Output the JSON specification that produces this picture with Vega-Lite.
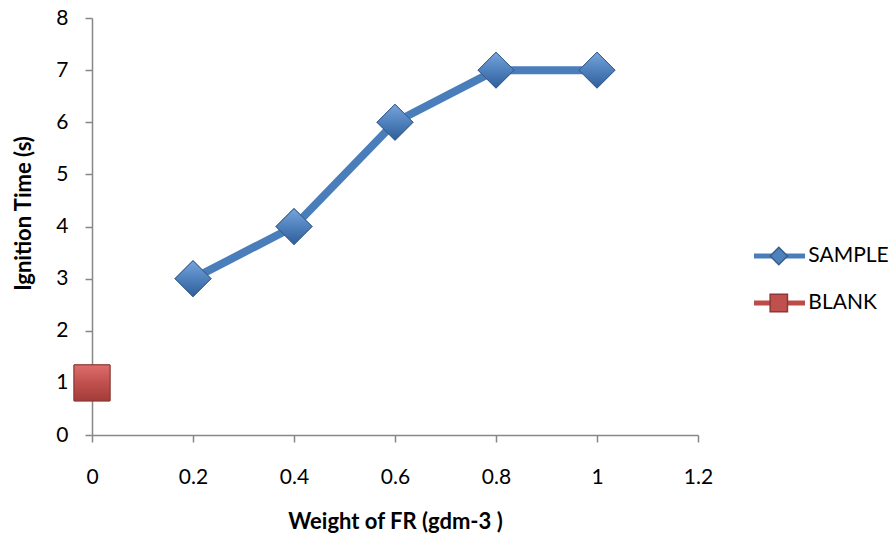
{
  "$schema": "https://vega.github.io/schema/vega-lite/v6.json",
  "width": 606,
  "height": 417,
  "autosize": {"type": "none"},
  "padding": {"left": 92, "top": 18, "right": 193, "bottom": 105},
  "background": "white",
  "config": {
    "view": {"stroke": null},
    "font": "Lato",
    "axis": {"grid": false, "domainColor": "#878787", "tickColor": "#878787", "domainWidth": 1.5, "tickWidth": 1.5, "tickSize": 7, "labelFont": "Lato", "labelFontSize": 21, "labelColor": "#000000", "labelFlush": false, "titleFont": "Lato", "titleFontSize": 22, "titleFontWeight": "bold", "titleColor": "#000000"},
    "legend": {"labelFont": "Lato", "labelFontSize": 21, "labelColor": "#000000"}
  },
  "data": {
    "values": [
      {"series": "SAMPLE", "x": 0.2, "y": 3},
      {"series": "SAMPLE", "x": 0.4, "y": 4},
      {"series": "SAMPLE", "x": 0.6, "y": 6},
      {"series": "SAMPLE", "x": 0.8, "y": 7},
      {"series": "SAMPLE", "x": 1.0, "y": 7},
      {"series": "BLANK", "x": 0, "y": 1}
    ]
  },
  "encoding": {
    "x": {"field": "x", "type": "quantitative", "scale": {"domain": [0, 1.2], "nice": false, "zero": false},
      "axis": {"values": [0, 0.2, 0.4, 0.6, 0.8, 1, 1.2], "format": "~g", "labelPadding": 24, "title": "Weight of FR (gdm-3 )", "titlePadding": 24}},
    "y": {"field": "y", "type": "quantitative", "scale": {"domain": [0, 8], "nice": false},
      "axis": {"values": [0, 1, 2, 3, 4, 5, 6, 7, 8], "labelPadding": 17, "title": "Ignition Time (s)", "titlePadding": 20, "titleY": 195}}
  },
  "layer": [
    {
      "mark": {"type": "line", "strokeWidth": 8, "strokeJoin": "round", "strokeCap": "round"},
      "encoding": {
        "color": {"field": "series", "type": "nominal", "sort": ["SAMPLE", "BLANK"],
          "scale": {"range": ["#4A7EBB", "#BE4B48"]},
          "legend": {"title": null, "orient": "none", "legendX": 659.5, "legendY": 228, "padding": 0, "symbolType": "stroke", "symbolSize": 2601, "symbolStrokeWidth": 5, "clipHeight": 20, "rowPadding": 26, "labelExpr": "''"}}
      }
    },
    {
      "mark": {"type": "point", "filled": true, "size": 1296, "strokeWidth": 1, "opacity": 1},
      "encoding": {
        "shape": {"field": "series", "type": "nominal", "scale": {"domain": ["SAMPLE", "BLANK"], "range": ["diamond", "square"]},
          "legend": {"title": null, "orient": "none", "legendX": 676.3, "legendY": 228, "padding": 0, "symbolSize": 300, "clipHeight": 20, "rowPadding": 26, "labelOffset": 19}},
        "fill": {"field": "series", "type": "nominal", "scale": {"domain": ["SAMPLE", "BLANK"], "range": ["#4F81BD", "#C0504D"]}},
        "stroke": {"field": "series", "type": "nominal", "scale": {"domain": ["SAMPLE", "BLANK"], "range": ["#385D8A", "#8C3836"]}}
      }
    },
    {
      "transform": [{"filter": "datum.series === 'SAMPLE'"}],
      "mark": {"type": "point", "shape": "diamond", "size": 1296, "strokeWidth": 1, "stroke": "#385D8A", "opacity": 1,
        "fill": {"gradient": "linear", "x1": 0, "y1": 0, "x2": 0, "y2": 1, "stops": [{"offset": 0, "color": "#78A5DC"}, {"offset": 0.5, "color": "#4F81BD"}, {"offset": 1, "color": "#2F5F99"}]}}
    },
    {
      "transform": [{"filter": "datum.series === 'BLANK'"}],
      "mark": {"type": "point", "shape": "square", "size": 1296, "strokeWidth": 1, "stroke": "#8C3836", "opacity": 1,
        "fill": {"gradient": "linear", "x1": 0, "y1": 0, "x2": 0, "y2": 1, "stops": [{"offset": 0, "color": "#DD6E6B"}, {"offset": 0.5, "color": "#C0504D"}, {"offset": 1, "color": "#A33C39"}]}}
    }
  ]
}
